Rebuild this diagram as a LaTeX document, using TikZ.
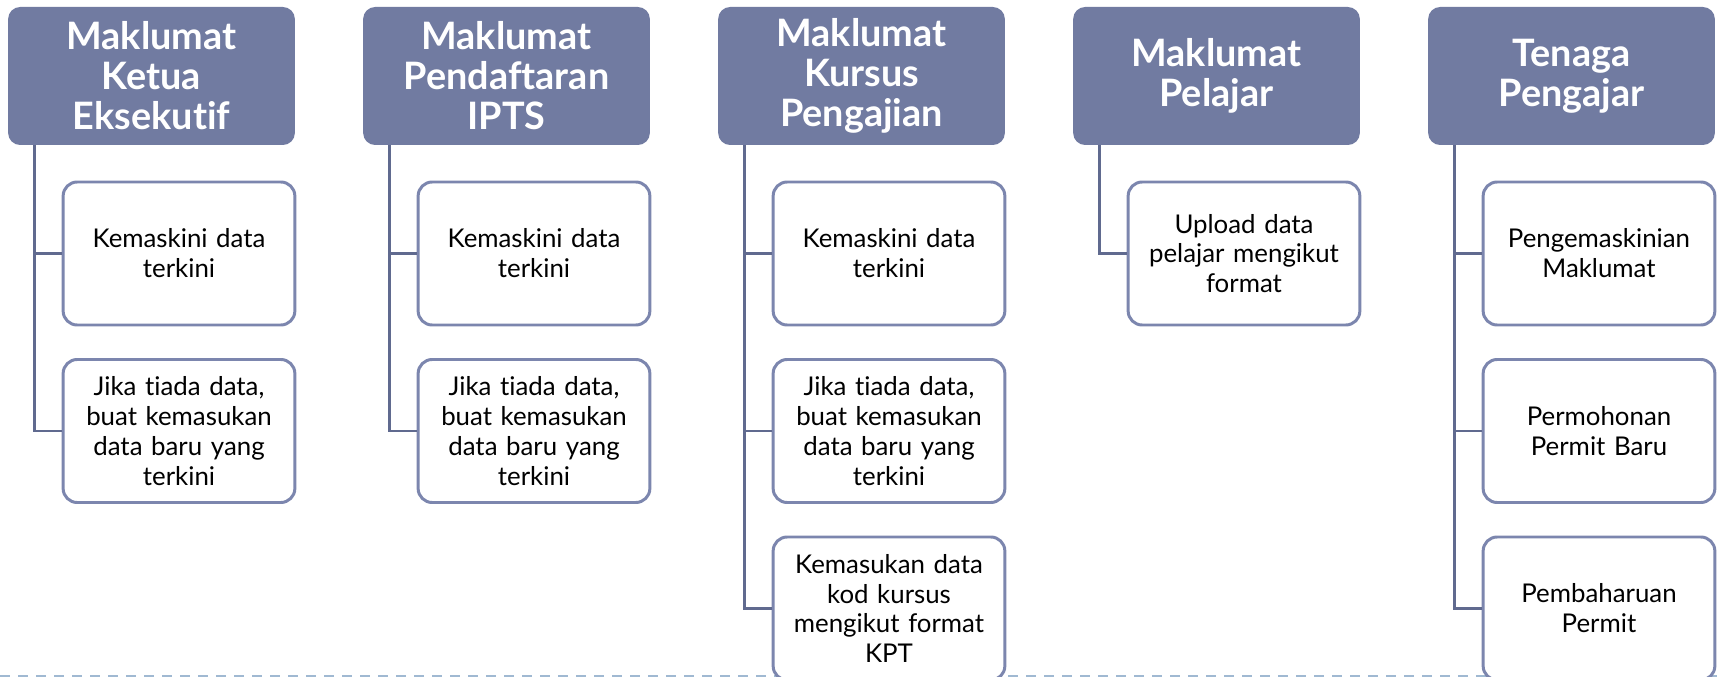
\documentclass[tikz,border=0pt]{standalone}
\usepackage{fontspec}
\setmainfont{Lato}[Ligatures=NoCommon, RawFeature={-dlig;-calt}]
\usepackage{xcolor}
\usepackage{tikz}

\begin{document}
\begin{tikzpicture}[node distance=3.55cm]
	\definecolor{hdrblue}{RGB}{113,123,161}
	\definecolor{linkblue}{RGB}{96,106,143}
	\definecolor{itemblue}{RGB}{124,134,174}
	\definecolor{sepblue}{RGB}{160,185,210}
	\tikzstyle{header} = [rectangle, rounded corners=0.24cm, minimum width=5.62cm, minimum height=2.76cm, text width=5.5cm, align=center, fill=hdrblue, text=white, font=\fontsize{21.5}{22.8}\selectfont\bfseries]
	\tikzstyle{item} = [rectangle, rounded corners=0.28cm, minimum width=4.6cm, minimum height=2.86cm, text width=4.4cm, align=center, draw=itemblue, line width=1.7pt, fill=white, font=\fontsize{14.7}{17}\selectfont]
	\tikzstyle{link} = [draw=linkblue, line width=1.7pt]

	\useasboundingbox (0,0) rectangle (34.34,-13.54);
	\draw [sepblue, line width=0.8pt, dash pattern=on 0.2cm off 0.16cm] (0,-13.52) -- (34.34,-13.52);

	\node (ketua) [header] at (3.03,-1.52) {Maklumat\\Ketua\\Eksekutif};
	\node (ipts) [header, right of=ketua, xshift=3.55cm] {Maklumat\\Pendaftaran\\IPTS};
	\node (kursus) [header, right of=ipts, xshift=3.55cm] {Maklumat\\Kursus\\Pengajian};
	\node (pelajar) [header, right of=kursus, xshift=3.55cm] {Maklumat\\Pelajar};
	\node (tenaga) [header, right of=pelajar, xshift=3.55cm] {Tenaga\\Pengajar};

	\node (ketua_kemaskini) [item, below of=ketua, xshift=0.55cm] {Kemaskini data\\terkini};
	\node (ketua_baru) [item, below of=ketua_kemaskini] {Jika tiada data,\\buat kemasukan\\data baru yang\\terkini};

	\node (ipts_kemaskini) [item, below of=ipts, xshift=0.55cm] {Kemaskini data\\terkini};
	\node (ipts_baru) [item, below of=ipts_kemaskini] {Jika tiada data,\\buat kemasukan\\data baru yang\\terkini};

	\node (kursus_kemaskini) [item, below of=kursus, xshift=0.55cm] {Kemaskini data\\terkini};
	\node (kursus_baru) [item, below of=kursus_kemaskini] {Jika tiada data,\\buat kemasukan\\data baru yang\\terkini};
	\node (kursus_kod) [item, below of=kursus_baru] {Kemasukan data\\kod kursus\\mengikut format\\KPT};

	\node (pelajar_upload) [item, below of=pelajar, xshift=0.55cm] {Upload data\\pelajar mengikut\\format};

	\node (tenaga_maklumat) [item, below of=tenaga, xshift=0.55cm] {Pengemaskinian\\Maklumat};
	\node (tenaga_permohonan) [item, below of=tenaga_maklumat] {Permohonan\\Permit Baru};
	\node (tenaga_pembaharuan) [item, below of=tenaga_permohonan] {Pembaharuan\\Permit};

	% spines under each header
	\coordinate (ketua_spine) at ([xshift=0.54cm]ketua.south west);
	\coordinate (ipts_spine) at ([xshift=0.54cm]ipts.south west);
	\coordinate (kursus_spine) at ([xshift=0.54cm]kursus.south west);
	\coordinate (pelajar_spine) at ([xshift=0.54cm]pelajar.south west);
	\coordinate (tenaga_spine) at ([xshift=0.54cm]tenaga.south west);

	\draw [link] (ketua_spine) |- (ketua_kemaskini.west);
	\draw [link] (ketua_spine) |- (ketua_baru.west);
	\draw [link] (ipts_spine) |- (ipts_kemaskini.west);
	\draw [link] (ipts_spine) |- (ipts_baru.west);
	\draw [link] (kursus_spine) |- (kursus_kemaskini.west);
	\draw [link] (kursus_spine) |- (kursus_baru.west);
	\draw [link] (kursus_spine) |- (kursus_kod.west);
	\draw [link] (pelajar_spine) |- (pelajar_upload.west);
	\draw [link] (tenaga_spine) |- (tenaga_maklumat.west);
	\draw [link] (tenaga_spine) |- (tenaga_permohonan.west);
	\draw [link] (tenaga_spine) |- (tenaga_pembaharuan.west);
\end{tikzpicture}
\end{document}
